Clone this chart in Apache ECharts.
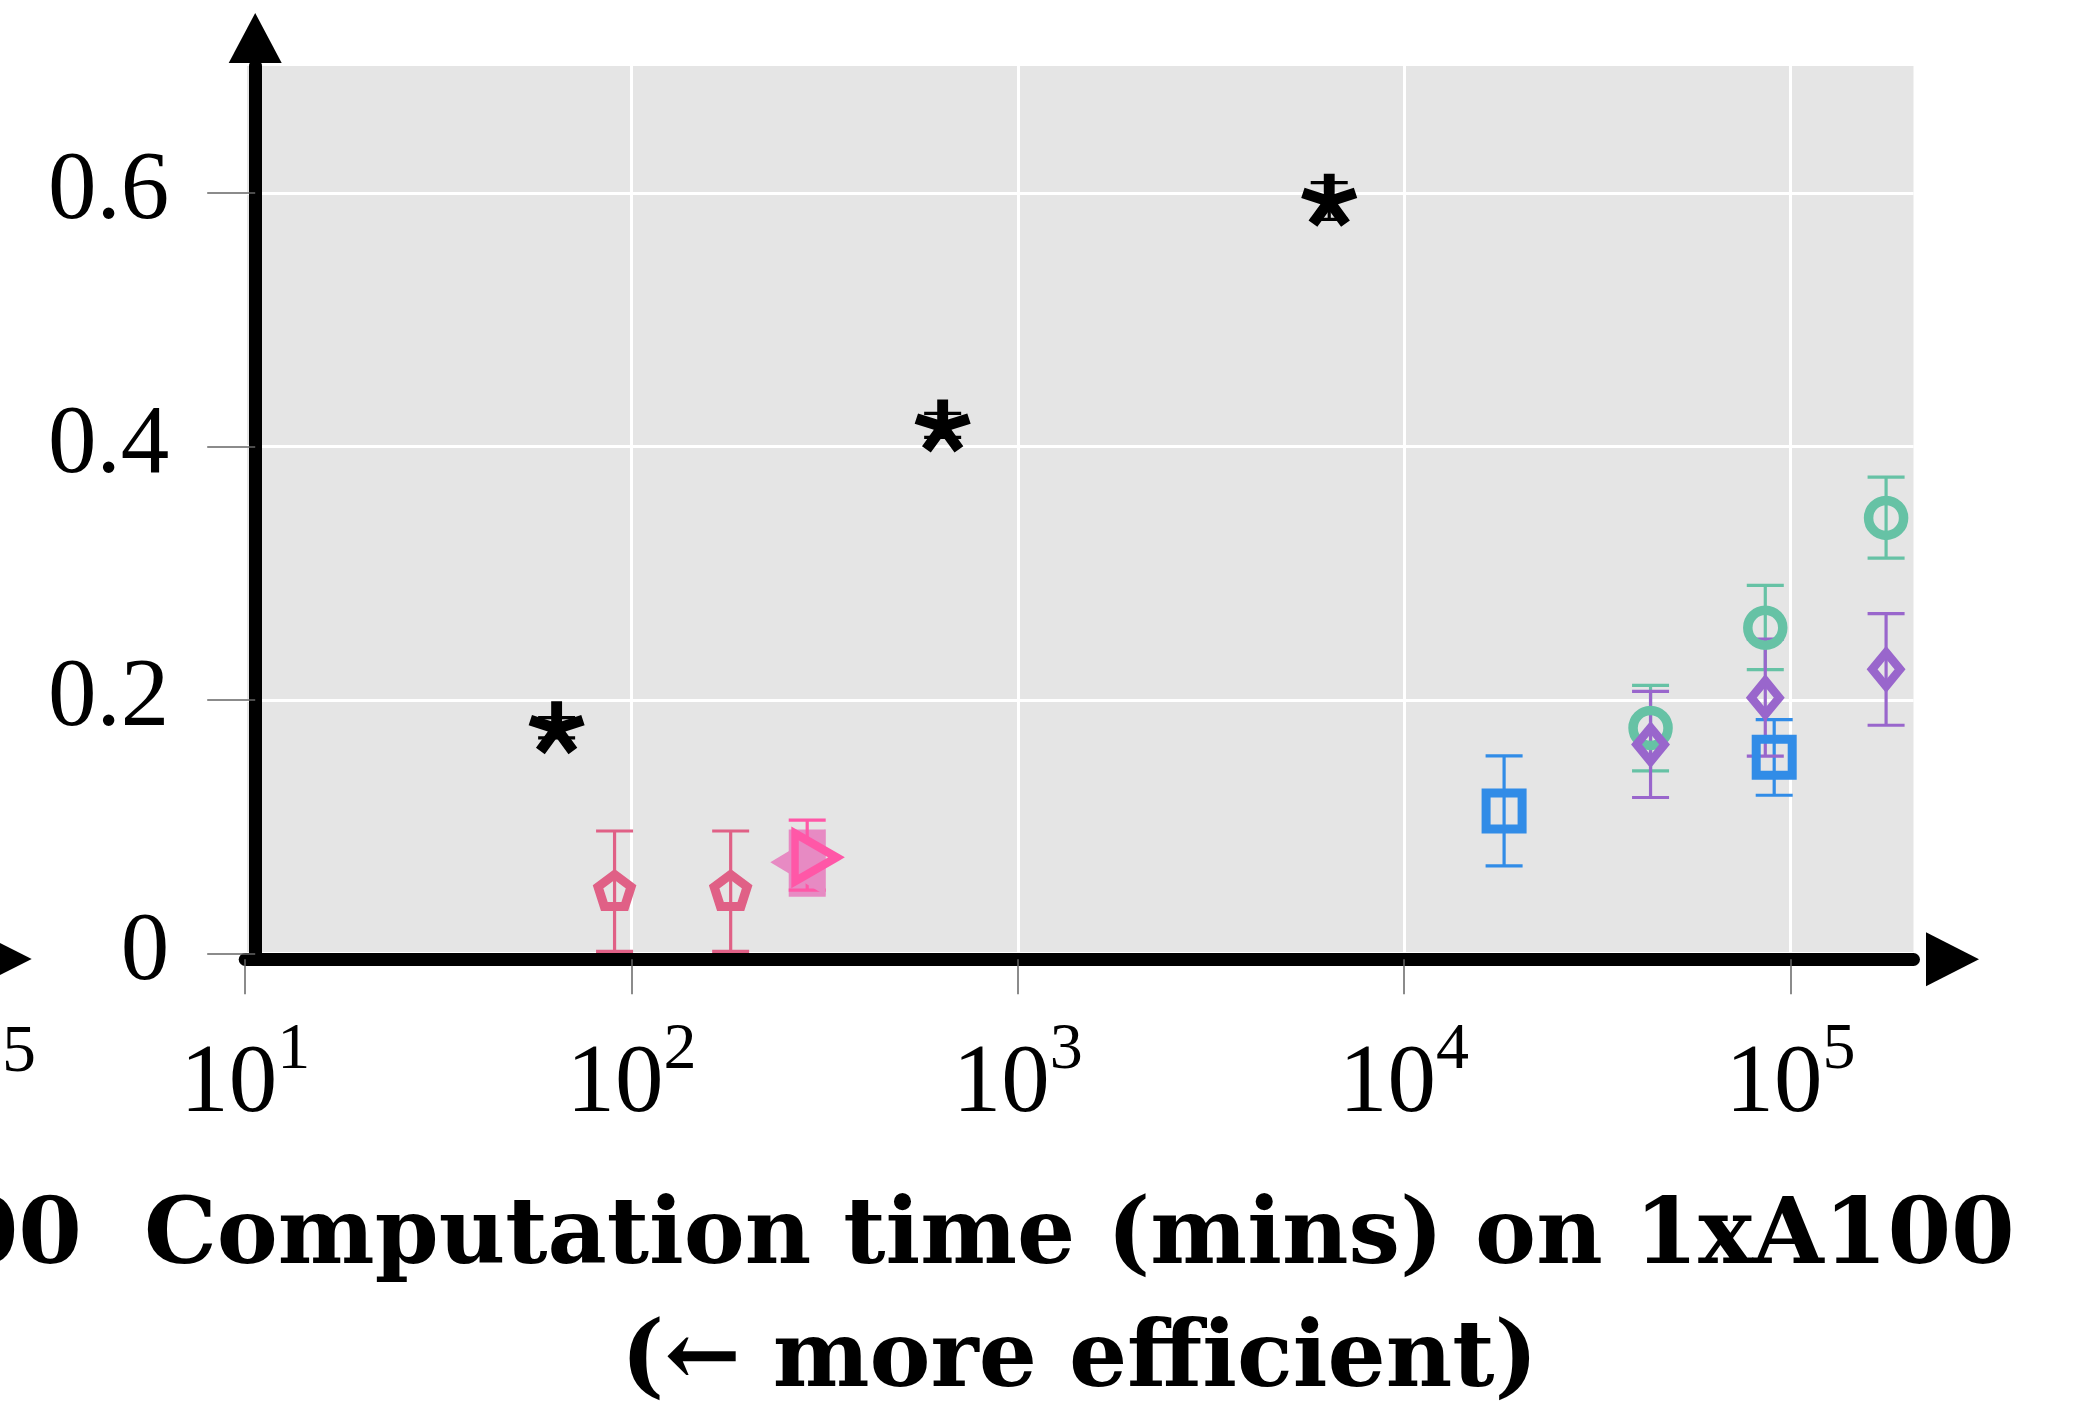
<!DOCTYPE html>
<html>
<head>
    <meta charset="utf-8">
    <title>Score vs computation time</title>
    <script src="https://cdn.jsdelivr.net/npm/echarts@6/dist/echarts.min.js"></script>
    <style>
        html, body { margin: 0; padding: 0; background: #fff; }
        #main { width: 2076px; height: 1412px; }
    </style>
</head>
<body>
    <div id="main"></div>
    <script type="text/javascript">
        // time = computation time in minutes, score = y value, lo / hi = error bar ends
        var starTime = [64, 639, 6400];
        var starScore = [0.178, 0.416, 0.594];
        var starLo = [0.170, 0.407, 0.579];
        var starHi = [0.186, 0.426, 0.608];

        var pentTime = [90.4, 180.6];
        var pentScore = [0.0495, 0.0495];
        var pentLo = [0.0015, 0.0015];
        var pentHi = [0.0965, 0.0965];

        var leftTriTime = [285];
        var leftTriScore = [0.0719];
        var leftTriLo = [0.0446];
        var leftTriHi = [0.0977];

        var rightTriTime = [285];
        var rightTriScore = [0.0757];
        var rightTriLo = [0.0499];
        var rightTriHi = [0.105];

        var squareTime = [18150, 90800];
        var squareScore = [0.1123, 0.1547];
        var squareLo = [0.069, 0.1247];
        var squareHi = [0.1557, 0.1844];

        var circleTime = [43450, 86100, 176900];
        var circleScore = [0.1778, 0.2569, 0.3435];
        var circleLo = [0.1439, 0.2238, 0.3117];
        var circleHi = [0.2114, 0.2902, 0.3756];

        var diamondTime = [43450, 86100, 176900];
        var diamondScore = [0.1647, 0.2017, 0.224];
        var diamondLo = [0.1229, 0.1555, 0.1799];
        var diamondHi = [0.2067, 0.2479, 0.2679];

        var xTicks = [10, 100, 1000, 10000, 100000];
        var yTicks = [0, 0.2, 0.4, 0.6];

        var myChart = echarts.init(document.getElementById('main'));

        // five armed star with flat arm ends
        function starSymbol() {
            var R = 28, h = 5.5, r = h / Math.sin(Math.PI / 5), pts = [];
            for (var k = 0; k < 5; k++) {
                var a = -Math.PI / 2 + k * 2 * Math.PI / 5;
                var c = Math.cos(a), s = Math.sin(a);
                pts.push([R * c + h * s, R * s - h * c]);
                pts.push([R * c - h * s, R * s + h * c]);
                var b = a + Math.PI / 5;
                pts.push([r * Math.cos(b), r * Math.sin(b)]);
            }
            return 'path://M' + pts.map(function (p) {
                return p[0].toFixed(2) + ',' + p[1].toFixed(2);
            }).join('L') + 'Z';
        }
        var pentagon = 'path://M0,-1L0.9511,-0.309L0.5878,0.809L-0.5878,0.809L-0.9511,-0.309Z';

        // error bars (or a filled box) drawn through the axes
        function errorBars(name, time, lo, hi, color, box) {
            return {
                type: 'custom',
                name: name + ' err',
                silent: true,
                data: time.map(function (t, i) { return [t, lo[i], hi[i]]; }),
                encode: { x: 0, y: [1, 2] },
                renderItem: function (params, api) {
                    var top = api.coord([api.value(0), api.value(2)]);
                    var bot = api.coord([api.value(0), api.value(1)]);
                    var hw = 18.5;
                    if (box) {
                        return {
                            type: 'rect',
                            shape: { x: top[0] - hw, y: top[1], width: 2 * hw, height: bot[1] - top[1] },
                            style: { fill: color }
                        };
                    }
                    var st = { stroke: color, lineWidth: 3.2 };
                    return {
                        type: 'group',
                        children: [
                            { type: 'line', shape: { x1: top[0], y1: top[1], x2: bot[0], y2: bot[1] }, style: st },
                            { type: 'line', shape: { x1: top[0] - hw, y1: top[1], x2: top[0] + hw, y2: top[1] }, style: st },
                            { type: 'line', shape: { x1: bot[0] - hw, y1: bot[1], x2: bot[0] + hw, y2: bot[1] }, style: st }
                        ]
                    };
                }
            };
        }

        function markers(name, time, score, opts) {
            var s = {
                type: 'scatter',
                name: name,
                silent: true,
                emphasis: { disabled: true },
                data: time.map(function (t, i) { return [t, score[i]]; })
            };
            for (var key in opts) s[key] = opts[key];
            return s;
        }

        function hollow(color, w) {
            return { color: 'rgba(0,0,0,0)', borderColor: color, borderWidth: w, borderJoin: 'miter', opacity: 1 };
        }

        var series = [
            errorBars('star', starTime, starLo, starHi, '#000'),
            markers('star', starTime, starScore, {
                symbol: starSymbol(), symbolSize: [56, 53],
                itemStyle: { color: '#000', opacity: 1 }
            }),
            errorBars('pentagon', pentTime, pentLo, pentHi, '#e06086'),
            markers('pentagon', pentTime, pentScore, {
                symbol: pentagon, symbolSize: [33, 32],
                itemStyle: hollow('#e06086', 9)
            }),
            errorBars('left triangle', leftTriTime, leftTriLo, leftTriHi, '#e78ac3', true),
            markers('left triangle', leftTriTime, leftTriScore, {
                symbol: 'triangle', symbolSize: [66, 55], symbolRotate: 90, symbolOffset: [-9.4, 0],
                itemStyle: { color: '#e78ac3', opacity: 1 }
            }),
            errorBars('right triangle', rightTriTime, rightTriLo, rightTriHi, '#ff57a7'),
            markers('right triangle', rightTriTime, rightTriScore, {
                symbol: 'triangle', symbolSize: [48, 41.5], symbolRotate: -90, symbolOffset: [8.6, 0],
                itemStyle: hollow('#ff57a7', 8)
            }),
            errorBars('square', squareTime, squareLo, squareHi, '#318ce7'),
            markers('square', squareTime, squareScore, {
                symbol: 'rect', symbolSize: 36,
                itemStyle: hollow('#318ce7', 9)
            }),
            errorBars('circle', circleTime, circleLo, circleHi, '#66c2a5'),
            markers('circle', circleTime, circleScore, {
                symbol: 'circle', symbolSize: 35,
                itemStyle: hollow('#66c2a5', 9.5)
            }),
            errorBars('diamond', diamondTime, diamondLo, diamondHi, '#9966cc'),
            markers('diamond', diamondTime, diamondScore, {
                symbol: 'diamond', symbolSize: [28, 34],
                itemStyle: hollow('#9966cc', 8.5)
            })
        ];

        var option = {
            backgroundColor: '#fff',
            animation: false,
            grid: {
                left: 245.2, right: 162.5, top: 66, bottom: 458.7,
                show: true, backgroundColor: '#e5e5e5', borderWidth: 0,
                outerBoundsMode: 'none'
            },
            xAxis: {
                type: 'log',
                logBase: 10,
                min: 10,
                max: 208300,
                offset: 6,
                axisLine: {
                    show: true, onZero: false,
                    lineStyle: { color: '#000', width: 13 },
                    symbol: ['none', 'triangle'], symbolSize: [54, 53], symbolOffset: [0, 39]
                },
                axisTick: { show: true, length: 35, customValues: xTicks, lineStyle: { color: '#666', width: 1.5 } },
                minorTick: { show: false },
                minorSplitLine: { show: false },
                splitLine: { show: true, lineStyle: { color: '#fff', width: 3 } },
                axisLabel: {
                    margin: 58,
                    customValues: xTicks,
                    formatter: function (v) {
                        return '{b|10}{s|' + Math.round(Math.log10(v)) + '}';
                    },
                    rich: {
                        b: { fontFamily: 'Liberation Serif', fontSize: 97, color: '#000', lineHeight: 117, verticalAlign: 'bottom' },
                        s: { fontFamily: 'Liberation Serif', fontSize: 66, color: '#000', verticalAlign: 'top' }
                    }
                },
                name: 'Computation time (mins) on 1xA100\n(\u2190 more efficient)',
                nameLocation: 'middle',
                nameGap: 218,
                nameTextStyle: {
                    fontFamily: 'DejaVu Serif', fontWeight: 'bold', fontSize: 91.5, color: '#000', lineHeight: 123
                }
            },
            yAxis: {
                type: 'value',
                min: 0,
                max: 0.7,
                interval: 0.2,
                offset: -10,
                axisLine: {
                    show: true, onZero: false,
                    lineStyle: { color: '#000', width: 13 },
                    symbol: ['none', 'triangle'], symbolSize: [53, 50], symbolOffset: [0, 28]
                },
                axisTick: { show: true, length: 48, customValues: yTicks, lineStyle: { color: '#666', width: 1.5 } },
                splitLine: { show: true, lineStyle: { color: '#fff', width: 3 } },
                axisLabel: {
                    margin: 86,
                    customValues: yTicks,
                    fontFamily: 'Liberation Serif',
                    fontSize: 97,
                    color: '#000',
                    formatter: function (v) { return v === 0 ? '0' : v.toFixed(1); }
                }
            },
            // cut-off pieces of the neighbouring panel on the left
            graphic: [
                { type: 'polygon', silent: true, shape: { points: [[0, 943], [31.7, 959], [0, 975]] }, style: { fill: '#000' } },
                {
                    type: 'text', silent: true, x: 2, y: 1053,
                    style: { text: '5', font: '68px "Liberation Serif"', fill: '#000', align: 'left', verticalAlign: 'middle', textAlign: 'left', textVerticalAlign: 'middle' }
                },
                {
                    type: 'text', silent: true, x: 82, y: 1239,
                    style: { text: '1xA100', font: 'bold 91.5px "DejaVu Serif"', fill: '#000', align: 'right', verticalAlign: 'middle', textAlign: 'right', textVerticalAlign: 'middle' }
                }
            ],
            series: series
        };

        myChart.setOption(option);
    </script>
</body>
</html>
